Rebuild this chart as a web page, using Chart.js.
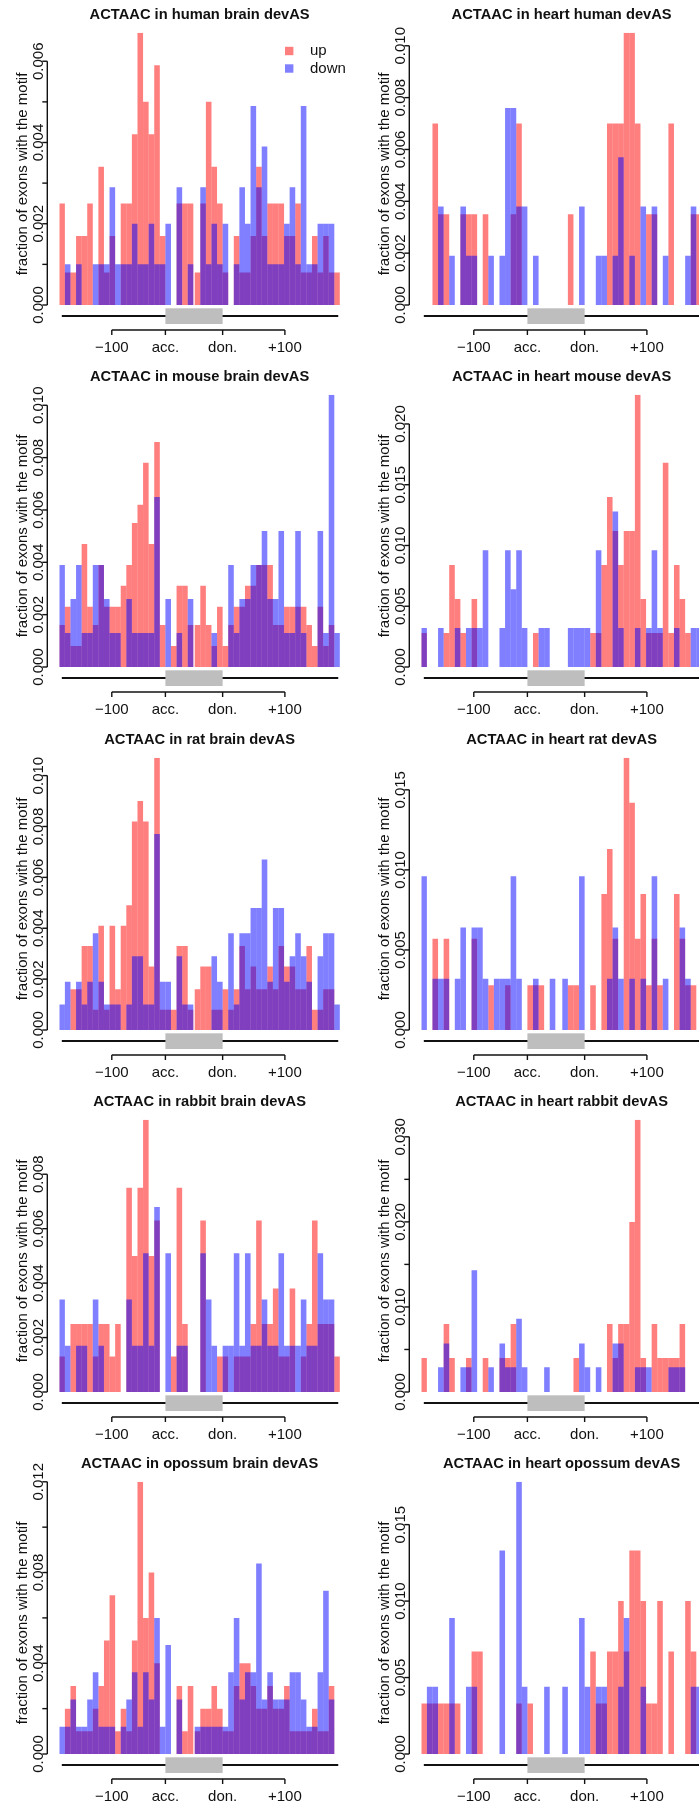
<!DOCTYPE html>
<html>
<head>
<meta charset="utf-8">
<script src="https://cdn.jsdelivr.net/npm/chart.js@4/dist/chart.umd.min.js"></script>
<style>
  html, body { margin: 0; padding: 0; background: #fff; overflow: hidden; }
  #wrap { position: relative; width: 699px; height: 1807px; overflow: hidden; }
  .panel { position: absolute; width: 362px; height: 362px; }
</style>
</head>
<body>
<div id="wrap"></div>
<script>
// ACTAAC motif occurrence around alternative exons: 50 position bins
// (19 upstream intron bins, 5 + 5 exon bins, 21 downstream intron bins).

// ---------- human ----------
const humanBrainUp = [0.0025,0.0008,0.0008,0.0017,0.0017,0.0025,0,0.0034,0.0008,0.0017,
  0,0.0025,0.0025,0.0042,0.0067,0.0050,0.0042,0.0059,0.0017,0,
  0,0.0025,0.0025,0.0025,0.0008,0.0025,0.0050,0.0034,0.0025,0.0008,
  0,0.0017,0.0008,0.0008,0.0017,0.0034,0.0017,0.0025,0.0025,0.0025,
  0.0017,0.0017,0.0025,0.0008,0.0008,0.0017,0.0008,0.0017,0.0008,0.0008];
const humanBrainDown = [0,0.0010,0,0.0010,0,0,0.0010,0.0010,0.0010,0.0029,
  0.0010,0.0010,0.0010,0.0020,0.0010,0.0010,0.0020,0.0010,0.0010,0.0020,
  0,0.0029,0,0.0010,0,0.0029,0.0010,0.0020,0.0010,0.0020,
  0,0.0010,0.0029,0.0020,0.0049,0.0029,0.0039,0.0010,0.0010,0.0010,
  0.0020,0.0029,0.0010,0.0049,0.0010,0.0010,0.0020,0.0020,0.0020,0];
const humanHeartUp = [0,0,0.0070,0.0035,0.0035,0,0,0.0035,0.0035,0.0035,
  0,0.0035,0,0,0,0,0.0035,0.0070,0,0,
  0,0,0,0,0,0,0.0035,0,0,0,
  0,0,0,0.0070,0.0070,0.0070,0.0105,0.0105,0.0070,0,
  0.0035,0.0035,0,0,0.0070,0,0,0,0.0035,0.0035];
const humanHeartDown = [0,0,0,0.0038,0,0.0019,0,0.0038,0.0019,0.0019,
  0,0,0.0019,0,0.0019,0.0076,0.0076,0.0038,0.0038,0,
  0.0019,0,0,0,0,0,0,0,0.0038,0,
  0,0.0019,0.0019,0,0.0019,0.0057,0,0.0019,0,0.0038,
  0,0.0038,0,0.0019,0,0,0,0.0019,0.0038,0];

// ---------- mouse ----------
const mouseBrainUp = [0.0016,0.0023,0.0008,0.0008,0.0047,0.0023,0.0016,0.0039,0.0023,0.0023,
  0.0023,0.0031,0.0039,0.0055,0.0062,0.0078,0.0047,0.0086,0.0016,0,
  0.0008,0.0031,0.0031,0.0016,0.0016,0.0031,0.0016,0.0008,0.0023,0.0008,
  0.0016,0.0023,0.0023,0.0031,0.0031,0.0039,0.0039,0.0039,0.0016,0.0016,
  0.0023,0.0023,0.0023,0.0023,0.0016,0.0008,0.0023,0.0008,0.0016,0];
const mouseBrainDown = [0.0039,0.0013,0.0026,0.0039,0.0013,0.0013,0.0039,0.0039,0.0026,0.0013,
  0.0013,0,0.0026,0.0013,0.0013,0.0013,0.0013,0.0065,0,0.0026,
  0,0.0013,0,0.0026,0,0,0,0.0013,0,0,
  0.0039,0.0013,0.0026,0.0026,0.0039,0.0039,0.0052,0.0026,0.0026,0.0052,
  0.0013,0.0013,0.0052,0.0013,0,0,0.0052,0.0013,0.0104,0.0013];
const mouseHeartUp = [0.0028,0,0,0,0.0028,0.0084,0.0056,0.0028,0,0.0056,
  0,0,0,0,0,0,0,0,0,0,
  0.0028,0,0,0,0,0,0,0,0,0,
  0.0028,0.0028,0.0084,0.0140,0.0112,0.0084,0.0112,0.0112,0.0224,0.0056,
  0.0028,0.0028,0.0028,0.0168,0.0028,0.0084,0.0056,0.0028,0,0];
const mouseHeartDown = [0.0032,0,0,0.0032,0,0,0.0032,0,0.0032,0.0032,
  0.0032,0.0096,0,0,0.0032,0.0096,0.0064,0.0096,0.0032,0,
  0,0.0032,0.0032,0,0,0,0.0032,0.0032,0.0032,0.0032,
  0,0.0096,0,0,0.0128,0.0032,0,0,0.0032,0,
  0.0032,0.0096,0.0032,0,0,0.0032,0,0,0.0032,0.0032];

// ---------- rat ----------
const ratBrainUp = [0,0,0.0016,0.0016,0.0033,0.0033,0.0008,0.0041,0.0008,0.0041,
  0.0016,0.0041,0.0049,0.0082,0.0090,0.0082,0.0025,0.0107,0.0008,0.0008,
  0.0008,0.0033,0.0033,0.0008,0.0016,0.0025,0.0025,0.0008,0.0008,0.0016,
  0.0008,0.0016,0.0033,0.0016,0.0025,0.0016,0.0016,0.0025,0.0016,0.0033,
  0.0025,0.0025,0.0016,0.0016,0.0033,0.0008,0.0008,0.0016,0.0016,0];
const ratBrainDown = [0.0010,0.0019,0,0.0019,0.0010,0.0019,0.0038,0.0019,0.0010,0.0010,
  0.0010,0,0.0010,0.0029,0.0029,0.0010,0.0010,0.0077,0.0019,0.0019,
  0,0.0029,0.0010,0.0010,0,0,0,0.0029,0.0019,0,
  0.0038,0.0010,0.0038,0.0038,0.0048,0.0048,0.0067,0.0019,0.0048,0.0048,
  0.0019,0.0029,0.0038,0.0029,0.0019,0,0.0029,0.0038,0.0038,0.0010];
const ratHeartUp = [0,0,0.0057,0,0.0057,0,0,0,0,0.0057,
  0,0,0.0028,0,0,0.0028,0,0,0,0.0028,
  0.0028,0.0028,0,0,0,0,0.0028,0.0028,0,0,
  0.0028,0,0.0085,0.0113,0.0057,0,0.0170,0.0142,0.0057,0.0085,
  0.0028,0.0057,0.0028,0,0,0.0085,0.0057,0.0028,0.0028,0];
const ratHeartDown = [0.0096,0,0.0032,0.0032,0.0032,0,0.0032,0.0064,0,0.0064,
  0.0064,0.0032,0,0.0032,0.0032,0.0032,0.0096,0.0032,0,0,
  0.0032,0,0,0.0032,0,0.0032,0,0,0.0096,0,
  0,0,0,0.0032,0.0064,0.0032,0,0.0032,0,0.0032,
  0,0.0096,0,0.0032,0,0,0.0064,0.0032,0,0];

// ---------- rabbit ----------
const rabbitBrainUp = [0.0013,0,0.0025,0.0025,0.0025,0.0025,0.0013,0.0025,0.0025,0.0013,
  0.0025,0,0.0075,0.0050,0.0075,0.0100,0.0050,0.0063,0,0,
  0.0013,0.0075,0.0025,0,0,0.0063,0,0,0.0013,0.0013,
  0,0.0013,0.0013,0.0013,0.0025,0.0063,0.0025,0.0025,0.0038,0.0013,
  0.0013,0.0038,0,0.0013,0.0025,0.0063,0.0025,0.0025,0.0025,0.0013];
const rabbitBrainDown = [0.0034,0.0017,0,0.0017,0.0017,0,0.0034,0.0017,0,0,
  0,0,0.0034,0.0017,0.0017,0.0051,0.0017,0.0068,0,0.0051,
  0,0.0017,0.0017,0,0,0.0051,0.0034,0.0017,0,0.0017,
  0.0017,0.0051,0.0017,0.0051,0.0017,0.0017,0.0034,0.0017,0.0017,0.0051,
  0.0017,0.0017,0.0017,0.0034,0.0017,0.0017,0.0051,0.0034,0.0034,0];
const rabbitHeartUp = [0.0040,0,0,0,0.0080,0.0040,0,0,0.0040,0,
  0,0.0040,0,0,0.0040,0.0040,0.0080,0,0,0,
  0,0,0,0,0,0,0,0.0040,0,0,
  0,0,0,0.0080,0.0040,0.0080,0.0080,0.0200,0.0320,0.0040,
  0,0.0080,0.0040,0.0040,0.0040,0.0040,0.0080,0,0,0];
const rabbitHeartDown = [0,0,0,0.0029,0.0057,0,0,0.0029,0.0029,0.0143,
  0,0,0.0029,0,0.0057,0.0029,0.0029,0.0086,0.0029,0,
  0,0,0.0029,0,0,0,0,0,0.0057,0.0029,
  0,0.0029,0,0,0.0057,0.0057,0,0,0.0029,0.0029,
  0.0029,0,0,0,0.0029,0.0029,0.0029,0,0,0];

// ---------- opossum ----------
const opossumBrainUp = [0,0.002,0.003,0.001,0.001,0.001,0.002,0.003,0.005,0.007,
  0.001,0.002,0.001,0.005,0.012,0.006,0.008,0.004,0,0,
  0,0.003,0.001,0.003,0.001,0.002,0.002,0.003,0.002,0.001,
  0.001,0.003,0.004,0.004,0.003,0.002,0.002,0.003,0.002,0.002,
  0.003,0.001,0.001,0.001,0.001,0.002,0.001,0.001,0.003,0];
const opossumBrainDown = [0.0012,0.0012,0.0024,0.0012,0.0012,0.0024,0.0036,0.0012,0.0012,0.0012,
  0,0.0012,0.0024,0.0036,0.0012,0.0036,0.0024,0.0060,0.0012,0.0048,
  0,0.0024,0,0,0.0012,0.0012,0.0012,0.0012,0.0012,0.0012,
  0.0036,0.0060,0.0024,0.0036,0.0036,0.0084,0.0024,0.0036,0.0024,0.0024,
  0.0024,0.0036,0.0036,0.0024,0.0012,0.0012,0.0036,0.0072,0.0024,0];
const opossumHeartUp = [0.0033,0.0033,0.0033,0.0033,0.0033,0.0033,0.0033,0,0,0.0067,
  0.0067,0,0,0,0,0,0,0.0033,0,0.0033,
  0,0,0,0,0,0,0,0,0,0,
  0.0067,0.0033,0.0033,0.0067,0.0067,0.0100,0.0067,0.0133,0.0133,0.0100,
  0.0033,0.0033,0.0100,0,0.0067,0,0,0.0100,0.0067,0];
const opossumHeartDown = [0,0.0044,0.0044,0,0,0.0089,0,0,0.0044,0.0044,
  0,0,0,0,0.0133,0,0,0.0178,0.0044,0,
  0,0,0.0044,0,0,0.0044,0,0,0.0089,0.0044,
  0,0.0044,0.0044,0,0,0.0044,0.0089,0,0,0.0044,
  0,0,0,0,0,0,0,0,0.0044,0.0044];

// ---------- y-axis ticks (blank label = unlabelled tick) ----------
const ticksTo006 = [0, 0.001, 0.002, 0.003, 0.004, 0.005, 0.006];
const labelsTo006 = ['0.000', '', '0.002', '', '0.004', '', '0.006'];
const ticksTo010 = [0, 0.002, 0.004, 0.006, 0.008, 0.010];
const labelsTo010 = ['0.000', '0.002', '0.004', '0.006', '0.008', '0.010'];
const ticksTo008 = [0, 0.002, 0.004, 0.006, 0.008];
const labelsTo008 = ['0.000', '0.002', '0.004', '0.006', '0.008'];
const ticksTo020 = [0, 0.005, 0.010, 0.015, 0.020];
const labelsTo020 = ['0.000', '0.005', '0.010', '0.015', '0.020'];
const ticksTo015 = [0, 0.005, 0.010, 0.015];
const labelsTo015 = ['0.000', '0.005', '0.010', '0.015'];
const ticksTo030 = [0, 0.005, 0.010, 0.015, 0.020, 0.025, 0.030];
const labelsTo030 = ['0.000', '', '0.010', '', '0.020', '', '0.030'];
const ticksTo012 = [0, 0.002, 0.004, 0.006, 0.008, 0.010, 0.012];
const labelsTo012 = ['0.000', '', '0.004', '', '0.008', '', '0.012'];

// ---------- x-axis (gene model) ----------
const xTickLabels = ['\u2212100', 'acc.', 'don.', '+100'];
const xTickPositions = [9.4, 19, 29.25, 40.4];   // in bin units
const ACC = 19, DON = 29.25, X_MAX = 50.25;
const GENE_FROM = 0.45, GENE_TO = 49.95;
// bin centres: second exon half and downstream intron sit a quarter bin further right
const binCenters = Array.from({ length: 50 }, (_, k) => k < 24 ? k + 0.5 : k + 0.75);

const UP_COLOR = 'rgba(255,0,0,0.5)';
const DOWN_COLOR = 'rgba(0,0,255,0.5)';
const INK = '#111';
const FONT = '"Liberation Sans", Arial, Helvetica, sans-serif';

const panels = [
  { title: 'ACTAAC in human brain devAS',   up: humanBrainUp,   down: humanBrainDown,   ticks: ticksTo006, labels: labelsTo006, legend: true },
  { title: 'ACTAAC in heart human devAS',   up: humanHeartUp,   down: humanHeartDown,   ticks: ticksTo010, labels: labelsTo010 },
  { title: 'ACTAAC in mouse brain devAS',   up: mouseBrainUp,   down: mouseBrainDown,   ticks: ticksTo010, labels: labelsTo010 },
  { title: 'ACTAAC in heart mouse devAS',   up: mouseHeartUp,   down: mouseHeartDown,   ticks: ticksTo020, labels: labelsTo020 },
  { title: 'ACTAAC in rat brain devAS',     up: ratBrainUp,     down: ratBrainDown,     ticks: ticksTo010, labels: labelsTo010 },
  { title: 'ACTAAC in heart rat devAS',     up: ratHeartUp,     down: ratHeartDown,     ticks: ticksTo015, labels: labelsTo015 },
  { title: 'ACTAAC in rabbit brain devAS',  up: rabbitBrainUp,  down: rabbitBrainDown,  ticks: ticksTo008, labels: labelsTo008 },
  { title: 'ACTAAC in heart rabbit devAS',  up: rabbitHeartUp,  down: rabbitHeartDown,  ticks: ticksTo030, labels: labelsTo030 },
  { title: 'ACTAAC in opossum brain devAS', up: opossumBrainUp, down: opossumBrainDown, ticks: ticksTo012, labels: labelsTo012 },
  { title: 'ACTAAC in heart opossum devAS', up: opossumHeartUp, down: opossumHeartDown, ticks: ticksTo015, labels: labelsTo015 }
];

const COL_X = [0, 362];
const ROW_Y = [0, 362, 725, 1087, 1449];
const SIZE = 362;

// Axes, title, gene model and legend drawn in R base-graphics style.
const decor = {
  id: 'decor',
  afterDatasetsDraw(chart, args, p) {
    const { ctx, chartArea: a, scales: { x, y } } = chart;
    ctx.save();
    ctx.fillStyle = INK;
    ctx.strokeStyle = INK;

    // title
    ctx.font = 'bold 14.7px ' + FONT;
    ctx.textAlign = 'center';
    ctx.textBaseline = 'middle';
    ctx.fillText(p.title, (a.left + a.right) / 2, 15);

    // y axis
    const ax = a.left - 12;
    ctx.lineWidth = 1.4;
    ctx.beginPath();
    ctx.moveTo(ax, y.getPixelForValue(p.ticks[0]));
    ctx.lineTo(ax, y.getPixelForValue(p.ticks[p.ticks.length - 1]));
    ctx.stroke();
    ctx.font = '15px ' + FONT;
    p.ticks.forEach((t, i) => {
      const py = y.getPixelForValue(t);
      ctx.beginPath();
      ctx.moveTo(ax, py);
      ctx.lineTo(ax - 5, py);
      ctx.stroke();
      if (p.labels[i]) {
        ctx.save();
        ctx.translate(ax - 8.5, py);
        ctx.rotate(-Math.PI / 2);
        ctx.textAlign = 'center';
        ctx.textBaseline = 'middle';
        ctx.fillText(p.labels[i], 0, 0);
        ctx.restore();
      }
    });

    // y title
    ctx.save();
    ctx.translate(23, 174);
    ctx.rotate(-Math.PI / 2);
    ctx.font = '15px ' + FONT;
    ctx.textAlign = 'center';
    ctx.textBaseline = 'middle';
    ctx.fillText('fraction of exons with the motif', 0, 0);
    ctx.restore();

    // gene model: intron line with exon box
    const gy = a.bottom + 11;
    ctx.lineWidth = 2;
    ctx.beginPath();
    ctx.moveTo(x.getPixelForValue(GENE_FROM), gy);
    ctx.lineTo(x.getPixelForValue(GENE_TO), gy);
    ctx.stroke();
    const bx0 = x.getPixelForValue(ACC), bx1 = x.getPixelForValue(DON);
    ctx.fillStyle = '#bebebe';
    ctx.fillRect(bx0, a.bottom + 3.3, bx1 - bx0, 15.7);

    // position axis
    ctx.fillStyle = INK;
    const ty = a.bottom + 25;
    ctx.lineWidth = 1.4;
    ctx.beginPath();
    ctx.moveTo(x.getPixelForValue(xTickPositions[0]), ty);
    ctx.lineTo(x.getPixelForValue(xTickPositions[xTickPositions.length - 1]), ty);
    ctx.stroke();
    ctx.font = '15px ' + FONT;
    ctx.textAlign = 'center';
    ctx.textBaseline = 'middle';
    xTickPositions.forEach((v, i) => {
      const px = x.getPixelForValue(v);
      ctx.beginPath();
      ctx.moveTo(px, ty);
      ctx.lineTo(px, ty + 5);
      ctx.stroke();
      ctx.fillText(xTickLabels[i], px, a.bottom + 43);
    });

    // legend
    if (p.legend) {
      const items = [['up', UP_COLOR, 51], ['down', DOWN_COLOR, 68.5]];
      ctx.textAlign = 'left';
      items.forEach(([txt, col, cy]) => {
        ctx.fillStyle = col;
        ctx.fillRect(285, cy - 4.2, 8.4, 8.4);
        ctx.fillStyle = INK;
        ctx.fillText(txt, 310, cy);
      });
    }
    ctx.restore();
  }
};

const wrap = document.getElementById('wrap');
panels.forEach((p, i) => {
  const div = document.createElement('div');
  div.className = 'panel';
  div.style.left = COL_X[i % 2] + 'px';
  div.style.top = ROW_Y[Math.floor(i / 2)] + 'px';
  const canvas = document.createElement('canvas');
  canvas.width = SIZE;
  canvas.height = SIZE;
  canvas.style.width = SIZE + 'px';
  canvas.style.height = SIZE + 'px';
  div.appendChild(canvas);
  wrap.appendChild(div);

  const yMax = Math.max(...p.up, ...p.down);
  const toPoints = vals => vals.map((v, k) => ({ x: binCenters[k], y: v }));

  new Chart(canvas, {
    type: 'bar',
    data: {
      datasets: [
        // "up" is painted first, "down" is laid over it (lower order = on top)
        { label: 'up', data: toPoints(p.up), backgroundColor: UP_COLOR, borderWidth: 0, order: 2,
          inflateAmount: 0, grouped: false, barPercentage: 1, categoryPercentage: 1 },
        { label: 'down', data: toPoints(p.down), backgroundColor: DOWN_COLOR, borderWidth: 0, order: 1,
          inflateAmount: 0, grouped: false, barPercentage: 1, categoryPercentage: 1 }
      ]
    },
    options: {
      responsive: false,
      animation: false,
      devicePixelRatio: 1,
      layout: { padding: { left: 59.3, right: SIZE - 339.9, top: 32.8, bottom: SIZE - 305 } },
      scales: {
        x: { type: 'linear', min: 0, max: X_MAX, offset: false, display: false,
             afterBuildTicks: s => { s.ticks = [{ value: 0 }]; } },
        y: { type: 'linear', min: 0, max: yMax, display: false }
      },
      plugins: {
        legend: { display: false },
        tooltip: { enabled: false },
        decor: p
      }
    },
    plugins: [decor]
  });
});
</script>
</body>
</html>
